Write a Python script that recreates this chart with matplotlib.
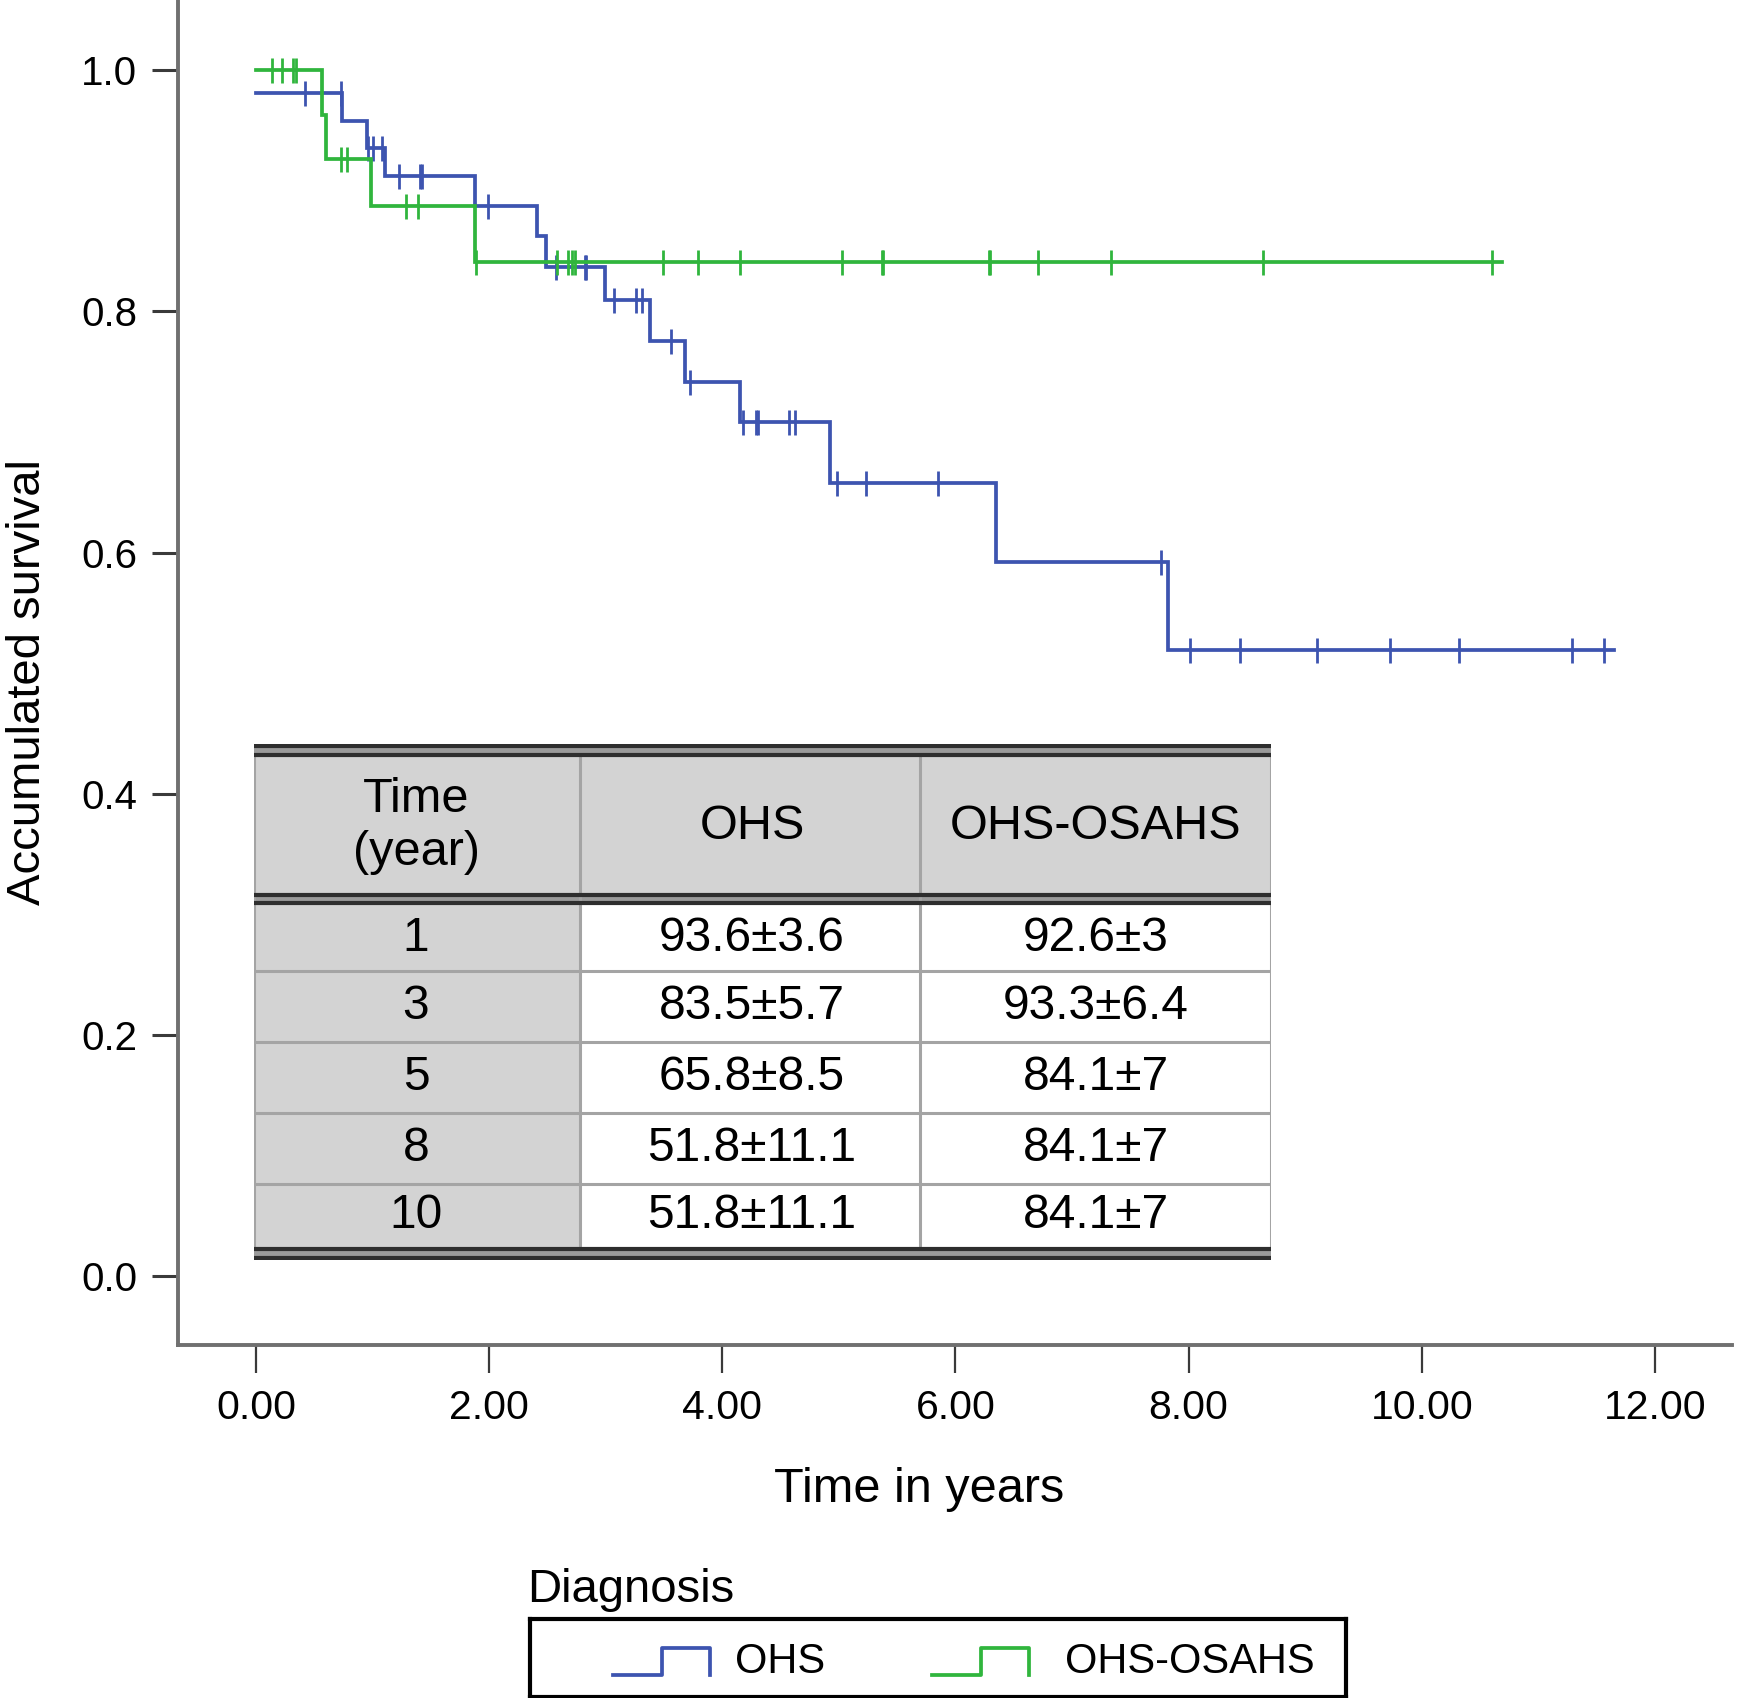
import numpy as np
import matplotlib
matplotlib.use("Agg")
import matplotlib.pyplot as plt
import matplotlib.patches as patches

plt.rcParams['font.family'] = ['Liberation Sans', 'DejaVu Sans']

# ---- data ----
ohs_times = [0.0, 0.74, 0.95, 1.11, 1.88, 2.41, 2.49, 2.99, 3.38, 3.68, 4.15, 4.92, 6.35, 7.82]
ohs_surv = [0.981, 0.958, 0.935, 0.912, 0.887, 0.862, 0.837, 0.809, 0.775, 0.741, 0.708, 0.658, 0.592, 0.519]
ohs_end = 11.65
ohs_censored = [0.42, 0.73, 0.96, 1.00, 1.08, 1.23, 1.41, 1.42, 1.99, 2.57, 2.82, 2.83,
                3.07, 3.26, 3.31, 3.56, 3.72, 4.18, 4.29, 4.31, 4.57, 4.62, 4.98, 5.23,
                5.85, 7.76, 8.01, 8.44, 9.10, 9.73, 10.32, 11.29, 11.56]

osahs_times = [0.0, 0.57, 0.60, 0.99, 1.88]
osahs_surv = [1.0, 0.963, 0.926, 0.887, 0.841]
osahs_end = 10.69
osahs_censored = [0.14, 0.22, 0.32, 0.34, 0.73, 0.78, 1.29, 1.39, 1.89, 2.58, 2.68, 2.71,
                  2.74, 3.49, 3.79, 4.15, 5.03, 5.37, 5.38, 6.29, 6.30, 6.71, 7.33, 8.64, 10.60]

table_header = ["Time\n(year)", "OHS", "OHS-OSAHS"]
table_years = ["1", "3", "5", "8", "10"]
table_ohs = ["93.6\u00b13.6", "83.5\u00b15.7", "65.8\u00b18.5", "51.8\u00b111.1", "51.8\u00b111.1"]
table_osahs = ["92.6\u00b13", "93.3\u00b16.4", "84.1\u00b17", "84.1\u00b17", "84.1\u00b17"]

group_names = ["OHS", "OHS-OSAHS"]
blue = '#3d54b0'
green = '#30b53d'

W, H = 1739, 1698
fig = plt.figure(figsize=(W / 100, H / 100), dpi=100)


def px_axes(x0, y0, x1, y1):
    # pixel box (top-left origin) -> figure fraction axes
    return fig.add_axes([x0 / W, 1 - y1 / H, (x1 - x0) / W, (y1 - y0) / H])


ax = px_axes(177.5, 0, 1732, 1345)
ax.set_xlim(-0.673, 12.661)
ax.set_ylim(-0.0568, 1.0579)


def km_curve(times, surv, end, cens, color):
    xs = list(times) + [end]
    ys = list(surv) + [surv[-1]]
    ax.step(xs, ys, where='post', color=color, lw=2.7, solid_joinstyle='miter')
    idx = np.searchsorted(times, cens, side='right') - 1
    cy = np.array(surv)[idx]
    ax.plot(cens, cy, ls='none', marker='|', ms=18, mew=2.0, color=color)


km_curve(ohs_times, ohs_surv, ohs_end, ohs_censored, blue)
km_curve(osahs_times, osahs_surv, osahs_end, osahs_censored, green)

for s in ['top', 'right']:
    ax.spines[s].set_visible(False)
for s in ['left', 'bottom']:
    ax.spines[s].set_color('#707070')
    ax.spines[s].set_linewidth(2.8)

ax.set_xticks(np.arange(0, 13, 2))
ax.set_xticklabels([f"{v:.2f}" for v in np.arange(0, 13, 2)])
ax.set_yticks(np.arange(0, 1.01, 0.2))
ax.set_yticklabels([f"{v:.1f}" for v in np.arange(0, 1.01, 0.2)])
ax.tick_params(axis='x', length=20, width=1.6, color='#3a3a3a', pad=12, labelsize=29.5)
ax.tick_params(axis='y', length=19, width=2.2, color='#3a3a3a', pad=10, labelsize=29)

fig.text(919 / W, 1 - 1502 / H, "Time in years", ha='center', va='baseline', fontsize=35)
fig.text(28 / W, 1 - 682 / H, "Accumulated survival", ha='center', va='center',
         rotation=90, fontsize=34)

# ---- table inset ----
tx = [254, 580, 920, 1271]
ty_rows = [905, 971, 1042, 1113, 1184, 1247]
tab = px_axes(254, 744, 1271, 1260)
tab.set_xlim(254, 1271)
tab.set_ylim(1260, 744)
tab.axis('off')

tab.add_patch(patches.Rectangle((254, 757), 1017, 136, color='#d3d3d3', lw=0))
tab.add_patch(patches.Rectangle((254, 905), 326, 342, color='#d3d3d3', lw=0))
grid_c = '#a4a4a4'
for x in tx:
    tab.plot([x, x], [757, 1247], color=grid_c, lw=2.2)
for y in ty_rows[1:-1]:
    tab.plot([254, 1271], [y, y], color=grid_c, lw=2.2)
for y0, y1 in [(744, 757), (893, 905), (1247, 1260)]:
    tab.add_patch(patches.Rectangle((254, y0), 1017, y1 - y0, color='#9a9a9a', lw=0))
    tab.plot([254, 1271], [y0 + 2, y0 + 2], color='#2e2e2e', lw=3.0, solid_capstyle='butt')
    tab.plot([254, 1271], [y1 - 2, y1 - 2], color='#2e2e2e', lw=3.0, solid_capstyle='butt')

col_cx = [416, 752, 1096]
for c, txt in enumerate(table_header):
    tab.text(col_cx[c], 826, txt, ha='center', va='center', fontsize=35, linespacing=1.25)
for r in range(len(table_years)):
    cy = (ty_rows[r] + ty_rows[r + 1]) / 2 - 5
    for c, txt in enumerate([table_years[r], table_ohs[r], table_osahs[r]]):
        tab.text(col_cx[c], cy, txt, ha='center', va='center_baseline', fontsize=34.5)

# ---- legend ----
fig.text(527 / W, 1 - 1602 / H, "Diagnosis", ha='left', va='baseline', fontsize=34)
leg = px_axes(530, 1619, 1346, 1697)
leg.set_xlim(530, 1346)
leg.set_ylim(1697, 1619)
leg.set_xticks([])
leg.set_yticks([])
for s in leg.spines.values():
    s.set_color('black')
    s.set_linewidth(3)
for x0, tx0, col, name in [(613, 735, blue, group_names[0]), (932, 1065, green, group_names[1])]:
    leg.plot([x0, x0 + 49, x0 + 49, x0 + 97, x0 + 97], [1675, 1675, 1648, 1648, 1675],
             color=col, lw=2.7)
    leg.text(tx0, 1662, name, ha='left', va='center', fontsize=30)

fig.savefig('out.png', dpi=100)
